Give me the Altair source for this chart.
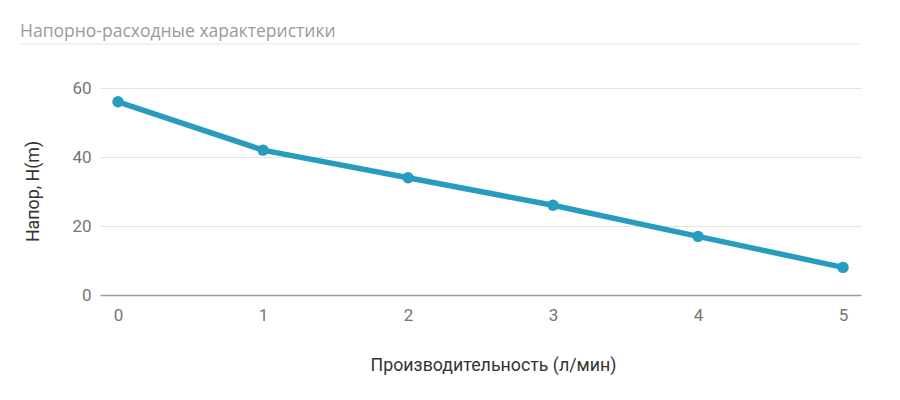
import altair as alt
import pandas as pd

flow = [0, 1, 2, 3, 4, 5]
head = [56, 42, 34, 26, 17, 8]
x_ticks = [0, 1, 2, 3, 4, 5]
y_ticks = [0, 20, 40, 60]

df = pd.DataFrame({"flow": flow, "head": head})

COLOR = "#279cbf"
W, H = 761, 207

base = alt.Chart(df)

xenc = alt.X(
    "flow:Q",
    scale=alt.Scale(domain=[0, 5], nice=False, zero=False, padding=18),
    axis=alt.Axis(
        values=x_ticks,
        format="d",
        title="Производительность (л/мин)",
        grid=False,
        ticks=False,
        domain=True,
        domainColor="#9e9e9e",
        domainWidth=1.5,
        labelColor="#757575",
        labelFont="Roboto",
        labelFontSize=17,
        labelPadding=12,
        titleFont="Roboto",
        titleFontSize=17.8,
        titleFontWeight="normal",
        titleColor="#333333",
        titleX=393,
        titleY=70,
        titleBaseline="middle",
        titleAlign="center",
    ),
)

yenc = alt.Y(
    "head:Q",
    scale=alt.Scale(domain=[0, 60], nice=False),
    axis=alt.Axis(
        values=y_ticks,
        format="d",
        title="Напор, H(m)",
        grid=True,
        gridColor="#e3e3e3",
        gridWidth=1,
        ticks=False,
        domain=False,
        labelColor="#757575",
        labelFont="Roboto",
        labelFontSize=17,
        labelPadding=9,
        titleFont="Roboto",
        titleFontSize=17.8,
        titleFontWeight="normal",
        titleColor="#333333",
        titleX=-67,
        titleY=103,
        titleAngle=270,
        titleBaseline="middle",
        titleAlign="center",
    ),
)

line = base.mark_line(color=COLOR, strokeWidth=5.5).encode(x=xenc, y=yenc)
pts = base.mark_circle(color=COLOR, size=130, opacity=1).encode(x="flow:Q", y="head:Q")

sep = alt.Chart(pd.DataFrame({"a": [0]})).mark_rule(color="#eeeeee", strokeWidth=1.5).encode(
    x=alt.value(-80), x2=alt.value(W), y=alt.value(-44)
)

chart = (
    alt.layer(sep, line, pts)
    .properties(
        width=W,
        height=H,
        autosize=alt.AutoSizeParams(type="none"),
        padding={"left": 92, "top": 80, "right": 31, "bottom": 97},
        title=alt.Title(
            "Напорно-расходные характеристики",
            anchor="start",
            frame="group",
            font="Open Sans",
            fontSize=17.5,
            fontWeight="normal",
            color="#9a9a9a",
            dx=-80,
            dy=-3,
            offset=0,
        ),
    )
    .configure_view(stroke=None)
)

chart.save("out.html", embed_options={"renderer": "svg", "actions": False})
